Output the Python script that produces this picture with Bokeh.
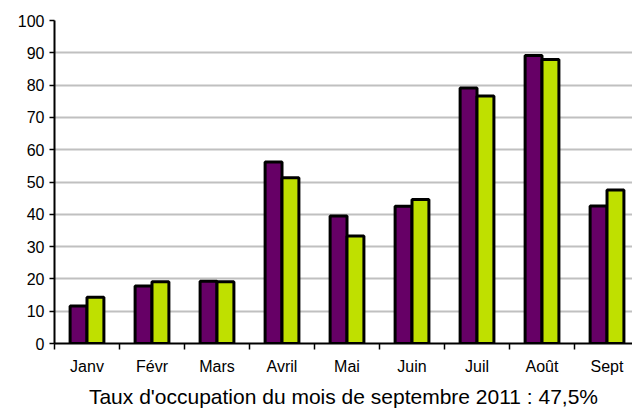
from bokeh.plotting import figure
from bokeh.models import FixedTicker, ColumnDataSource
from bokeh.embed import file_html
from bokeh.resources import INLINE

# ---- data ----
mois = ["Janv", "Févr", "Mars", "Avril", "Mai", "Juin", "Juil", "Août", "Sept"]
serie_violette = [11.6, 17.8, 19.3, 56.2, 39.5, 42.5, 79.1, 89.2, 42.6]
serie_verte = [14.3, 19.1, 19.1, 51.3, 33.3, 44.6, 76.6, 87.9, 47.5]
y_ticks = [0, 10, 20, 30, 40, 50, 60, 70, 80, 90, 100]
titre = "Taux d'occupation du mois de septembre 2011 : 47,5%"

FONT = "Liberation Sans"
n = len(mois)
centres = [i + 0.5 for i in range(n)]
bar_w = 0.26

p = figure(width=632, height=410, x_range=(0, 8.892), y_range=(0, 100),
           output_backend="svg", toolbar_location=None,
           min_border_left=54, min_border_right=0, min_border_top=20,
           min_border_bottom=65)
p.outline_line_color = None
p.background_fill_color = "white"
p.border_fill_color = "white"

src_v = ColumnDataSource(dict(x=[c - bar_w / 2 for c in centres], top=serie_violette))
src_g = ColumnDataSource(dict(x=[c + bar_w / 2 for c in centres], top=serie_verte))
p.vbar(x="x", top="top", bottom=0, width=bar_w, source=src_v,
       fill_color="#660066", line_color="black", line_width=3)
p.vbar(x="x", top="top", bottom=0, width=bar_w, source=src_g,
       fill_color="#BFE000", line_color="black", line_width=3)

# grid
p.xgrid.grid_line_color = None
p.ygrid.ticker = FixedTicker(ticks=y_ticks)
p.ygrid.grid_line_color = "#C0C0C0"
p.ygrid.grid_line_width = 2

# y axis
ya = p.yaxis[0]
ya.ticker = FixedTicker(ticks=y_ticks)
ya.axis_line_color = "black"
ya.axis_line_width = 2
ya.major_tick_line_color = "black"
ya.major_tick_line_width = 1.5
ya.major_tick_out = 5
ya.major_tick_in = 0
ya.minor_tick_line_color = None
ya.major_label_text_font = FONT
ya.major_label_text_font_size = "16px"
ya.major_label_text_color = "black"
ya.major_label_standoff = 5

# x axis
xa = p.xaxis[0]
xa.ticker = FixedTicker(ticks=centres, minor_ticks=[float(i) for i in range(n)])
xa.major_label_overrides = {c: m for c, m in zip(centres, mois)}
xa.axis_line_color = "black"
xa.axis_line_width = 2
xa.major_tick_line_color = None
xa.major_tick_out = 0
xa.major_tick_in = 0
xa.minor_tick_line_color = "black"
xa.minor_tick_line_width = 1.5
xa.minor_tick_out = 6
xa.minor_tick_in = 0
xa.major_label_text_font = FONT
xa.major_label_text_font_size = "16px"
xa.major_label_text_color = "black"
xa.major_label_standoff = 8
xa.axis_label = titre
xa.axis_label_text_font = FONT
xa.axis_label_text_font_size = "21px"
xa.axis_label_text_font_style = "normal"
xa.axis_label_text_color = "black"
xa.axis_label_standoff = 7

open("out.html", "w").write(file_html(p, INLINE))
